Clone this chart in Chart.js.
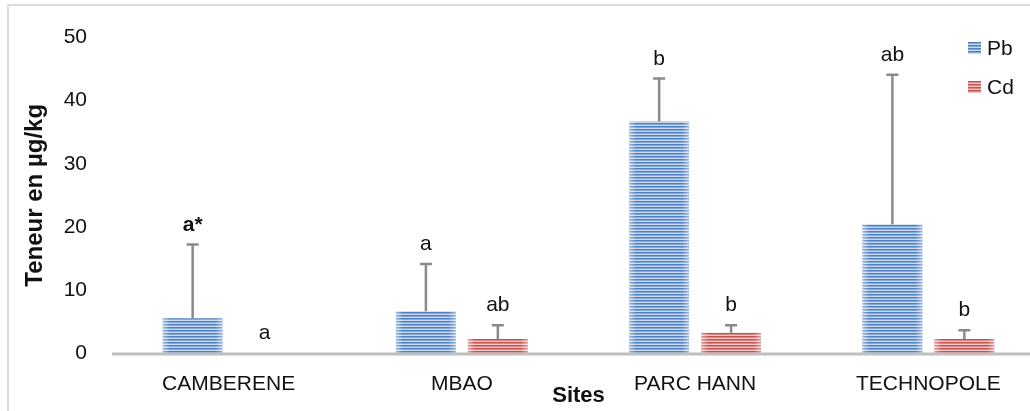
<!DOCTYPE html>
<html><head><meta charset="utf-8">
<script src="https://cdn.jsdelivr.net/npm/chart.js@4.4.0/dist/chart.umd.min.js"></script>
<style>html,body{margin:0;padding:0;background:#fff;overflow:hidden}#wrap{width:1030px;height:411px;position:relative;overflow:hidden}canvas{display:block}</style>
</head><body><div id="wrap"><canvas id="c" width="1045" height="411"></canvas></div>
<script>
const categories = ['CAMBERENE', 'MBAO', 'PARC HANN', 'TECHNOPOLE'];
const seriesNames = ['Pb', 'Cd'];
const pbValues = [5.5, 6.6, 36.7, 20.4];
const cdValues = [0, 2.2, 3.2, 2.2];
const pbErrorTop = [17.2, 14.1, 43.5, 44.1];
const cdErrorTop = [null, 4.4, 4.4, 3.6];
const pbLetters = ['a*', 'a', 'b', 'ab'];
const cdLetters = ['a', 'ab', 'b', 'b'];
const yTicks = [0, 10, 20, 30, 40, 50];
const yTitle = 'Teneur en µg/kg';
const xTitle = 'Sites';

const FONT = "'Liberation Sans', Arial, sans-serif";

function stripes(c1, c2, c3) {
  const cv = document.createElement('canvas');
  cv.width = 4; cv.height = 3;
  const x = cv.getContext('2d');
  x.fillStyle = c1; x.fillRect(0, 0, 4, 1);
  x.fillStyle = c2; x.fillRect(0, 1, 4, 1);
  x.fillStyle = c3; x.fillRect(0, 2, 4, 1);
  return x.createPattern(cv, 'repeat');
}
const bluePat = stripes('#4f7fc0', '#84a8d9', '#c9daf0');
const redPat = stripes('#c25350', '#da8886', '#f1c7c6');
const patterns = [bluePat, redPat];
const errors = [pbErrorTop, cdErrorTop];
const letters = [pbLetters, cdLetters];

const overlay = {
  id: 'overlay',
  beforeDraw(chart) {
    const { ctx, width, height } = chart;
    ctx.save();
    ctx.fillStyle = '#fff';
    ctx.fillRect(0, 0, width, height);
    ctx.strokeStyle = '#dcdcdc';
    ctx.lineWidth = 2;
    ctx.beginPath();
    ctx.moveTo(8, height);
    ctx.lineTo(8, 5);
    ctx.lineTo(width, 5);
    ctx.stroke();
    ctx.restore();
  },
  afterDatasetsDraw(chart) {
    const { ctx, chartArea, scales } = chart;
    const y = scales.y;
    const y0 = y.getPixelForValue(0);
    ctx.save();
    chart.data.datasets.forEach((ds, i) => {
      chart.getDatasetMeta(i).data.forEach((bar) => {
        const w = bar.width, l = bar.x - w / 2, h = bar.base - bar.y;
        if (h <= 0) return;
        const g = ctx.createLinearGradient(l, 0, l + w, 0);
        g.addColorStop(0, 'rgba(255,255,255,0.45)');
        g.addColorStop(0.12, 'rgba(255,255,255,0)');
        g.addColorStop(0.88, 'rgba(255,255,255,0)');
        g.addColorStop(1, 'rgba(255,255,255,0.45)');
        ctx.fillStyle = g;
        ctx.fillRect(l, bar.y, w, h);
      });
    });
    ctx.strokeStyle = '#bfbfbf';
    ctx.lineWidth = 3;
    ctx.beginPath();
    ctx.moveTo(chartArea.left, y0 + 1);
    ctx.lineTo(chart.width, y0 + 1);
    ctx.stroke();
    chart.data.datasets.forEach((ds, i) => {
      chart.getDatasetMeta(i).data.forEach((bar, j) => {
        const e = errors[i][j];
        let topPx = bar.y;
        if (e !== null && e !== undefined) {
          topPx = y.getPixelForValue(e);
          ctx.strokeStyle = '#8a8a8a';
          ctx.lineWidth = 2.5;
          ctx.beginPath();
          ctx.moveTo(bar.x, bar.y);
          ctx.lineTo(bar.x, topPx);
          ctx.moveTo(bar.x - 6, topPx);
          ctx.lineTo(bar.x + 6, topPx);
          ctx.stroke();
        }
        const t = letters[i][j];
        ctx.fillStyle = '#111';
        ctx.font = (t.includes('*') ? 'bold ' : '') + '21px ' + FONT;
        ctx.textAlign = 'center';
        ctx.textBaseline = 'alphabetic';
        ctx.fillText(t, bar.x, topPx - 14);
      });
    });
    ctx.font = '21px ' + FONT;
    ctx.textAlign = 'left';
    ctx.textBaseline = 'middle';
    seriesNames.forEach((n, i) => {
      const cy = 48 + i * 39;
      ctx.fillStyle = patterns[i];
      ctx.fillRect(968, cy - 6, 13, 12);
      ctx.fillStyle = '#111';
      ctx.fillText(n, 987, cy + 1);
    });
    ctx.restore();
  }
};

new Chart(document.getElementById('c'), {
  type: 'bar',
  data: {
    labels: categories,
    datasets: [
      { label: seriesNames[0], data: pbValues, backgroundColor: bluePat, borderWidth: 0 },
      { label: seriesNames[1], data: cdValues, backgroundColor: redPat, borderWidth: 0 }
    ]
  },
  options: {
    responsive: false,
    animation: false,
    devicePixelRatio: 1,
    layout: { padding: { top: 37, right: 0, left: 0, bottom: 0 } },
    datasets: { bar: { barPercentage: 0.833, categoryPercentage: 0.617 } },
    plugins: { legend: { display: false }, tooltip: { enabled: false } },
    scales: {
      x: {
        grid: { display: false, drawTicks: false },
        border: { display: false },
        ticks: { color: '#111', font: { family: FONT, size: 21 }, padding: 19, maxRotation: 0, autoSkip: false },
        title: { display: true, text: xTitle, color: '#111', font: { family: FONT, size: 22, weight: 'bold' }, padding: { top: 0, bottom: 2 } },
        afterFit(s) { s.height = 58; }
      },
      y: {
        min: 0, max: 50,
        grid: { display: false, drawTicks: false },
        border: { display: false },
        afterBuildTicks(s) { s.ticks = yTicks.map(v => ({ value: v })); },
        ticks: { color: '#111', font: { family: FONT, size: 21 }, padding: 25 },
        title: { display: true, text: yTitle, color: '#111', font: { family: FONT, size: 24, weight: 'bold' }, padding: { top: 21, bottom: 0 } },
        afterFit(s) { s.width = 112; }
      }
    }
  },
  plugins: [overlay]
});
</script></body></html>
